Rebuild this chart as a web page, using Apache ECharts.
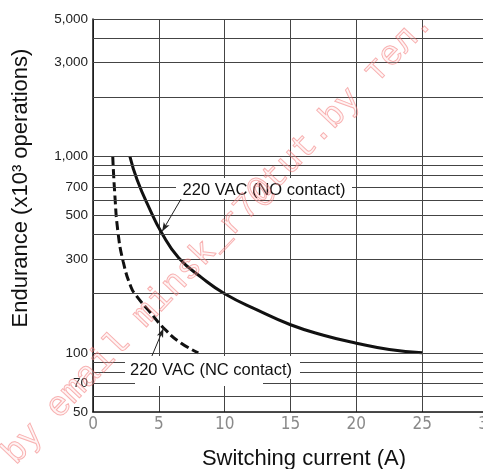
<!DOCTYPE html>
<html>
<head>
<meta charset="utf-8">
<script src="https://cdn.jsdelivr.net/npm/echarts@6/dist/echarts.min.js"></script>
<style>
  html, body { margin: 0; padding: 0; background: #fff; }
  #chart { width: 483px; height: 469px; }
</style>
</head>
<body>
<div id="chart"></div>
<script>
// NO contact curve (solid)
var noX = [2.8, 3.35, 4.3, 5.2, 6.5, 8.3, 10, 12.5, 15, 17.5, 20, 22.5, 25];
var noY = [1000, 760, 540, 410, 305, 240, 200, 165, 139, 123, 112, 104, 100];
// NC contact curve (dashed)
var ncX = [1.5, 1.65, 1.9, 2.3, 2.9, 3.3, 4.2, 5.5, 6.7, 8];
var ncY = [1000, 650, 410, 290, 215, 195, 165, 131, 112, 100];

var gridVals = [60, 70, 80, 90, 100, 200, 300, 400, 500, 600, 700, 800, 900,
                1000, 2000, 3000, 4000, 5000];
var tickVals = [50, 70, 100, 300, 500, 700, 1000, 3000, 5000];

function fmt(v) {
    return v >= 1000 ? Math.floor(v / 1000) + ',' + String(v % 1000).padStart(3, '0') : String(v);
}
function pairs(xs, ys) {
    return xs.map(function (x, i) { return [x, ys[i]]; });
}

var chart = echarts.init(document.getElementById('chart'));

// horizontal grid + y labels via markLine
var lineItems = [];
var allVals = [50].concat(gridVals);
allVals.forEach(function (v) {
    var lab = tickVals.indexOf(v) >= 0;
    lineItems.push({
        yAxis: v,
        label: {
            show: lab,
            position: 'start',
            distance: 5,
            formatter: fmt(v),
            color: '#222',
            fontSize: 13.5,
            fontFamily: 'Liberation Sans, Arial, sans-serif'
        }
    });
});

var option = {
    animation: false,
    grid: { left: 93, right: -5, top: 19, bottom: 57, outerBoundsMode: 'none', containLabel: false },
    xAxis: {
        type: 'value',
        min: 0,
        max: 30,
        interval: 5,
        axisLine: { lineStyle: { color: '#111', width: 1.5 } },
        axisTick: { show: false },
        splitLine: { show: true, lineStyle: { color: '#444', width: 1 } },
        axisLabel: {
            color: '#8a8a8a',
            fontSize: 17,
            margin: 4,
            fontFamily: "'Liberation Sans Narrow', 'DejaVu Sans Condensed', sans-serif"
        }
    },
    yAxis: {
        type: 'log',
        logBase: 10,
        min: 50,
        max: 5000,
        axisLine: { show: true, lineStyle: { color: '#111', width: 1.5 } },
        axisTick: { show: false },
        axisLabel: { show: false },
        splitLine: { show: false }
    },
    series: [
        {
            type: 'line',
            data: [],
            z: 1,
            silent: true,
            markLine: {
                silent: true,
                symbol: 'none',
                lineStyle: { color: '#444', width: 1, type: 'solid' },
                data: lineItems
            }
        },
        {
            name: '220 VAC (NO contact)',
            type: 'line',
            z: 3,
            smooth: 0.5,
            showSymbol: false,
            lineStyle: { color: '#111', width: 3 },
            data: pairs(noX, noY),
            markLine: {
                silent: true,
                symbol: ['none', 'arrow'],
                symbolSize: [5, 9],
                label: { show: false },
                lineStyle: { color: '#222', width: 1, type: 'solid' },
                data: [[{ coord: [6.69, 607] }, { coord: [5.25, 415] }]]
            }
        },
        {
            name: '220 VAC (NC contact)',
            type: 'line',
            z: 3,
            smooth: 0.5,
            showSymbol: false,
            lineStyle: { color: '#111', width: 3, type: [9, 4] },
            data: pairs(ncX, ncY),
            markLine: {
                silent: true,
                symbol: ['none', 'arrow'],
                symbolSize: [5, 9],
                label: { show: false },
                lineStyle: { color: '#222', width: 1, type: 'solid' },
                data: [[{ coord: [4.26, 89] }, { coord: [5.35, 133] }]]
            }
        }
    ],
    graphic: [
        // label boxes
        { type: 'rect', z: 50, shape: { x: 176, y: 178, width: 176, height: 21 }, style: { fill: '#fff' } },
        { type: 'text', z: 51, x: 264, y: 190, style: {
            text: '220 VAC (NO contact)', fill: '#111', align: 'center', verticalAlign: 'middle',
            font: '16.5px "Liberation Sans", Arial, sans-serif' } },
        { type: 'rect', z: 50, shape: { x: 125, y: 356, width: 175, height: 23 }, style: { fill: '#fff' } },
        { type: 'rect', z: 50, shape: { x: 135, y: 356, width: 128, height: 30 }, style: { fill: '#fff' } },
        { type: 'text', z: 51, x: 211, y: 370, style: {
            text: '220 VAC (NC contact)', fill: '#111', align: 'center', verticalAlign: 'middle',
            font: '16.5px "Liberation Sans", Arial, sans-serif' } },
        // axis titles
        { type: 'text', z: 51, x: 21, y: 188, rotation: Math.PI / 2, style: {
            text: 'Endurance (x10³ operations)', fill: '#111', align: 'center', verticalAlign: 'middle',
            font: '22px "Liberation Sans", Arial, sans-serif' } },
        { type: 'text', z: 51, x: 304, y: 459, style: {
            text: 'Switching current (A)', fill: '#111', align: 'center', verticalAlign: 'middle',
            font: '22px "Liberation Sans", Arial, sans-serif' } },
        // watermark
        { type: 'text', z: 60, x: 218, y: 238, rotation: 0.813, silent: true, style: {
            text: 'by email minsk_r7@tut.by тел.', align: 'center', verticalAlign: 'middle',
            font: '35px "Liberation Mono", "DejaVu Sans Mono", monospace',
            fill: 'rgba(255,210,210,0.25)', stroke: 'rgba(240,90,90,0.5)', lineWidth: 1 } }
    ]
};

chart.setOption(option);
</script>
</body>
</html>
